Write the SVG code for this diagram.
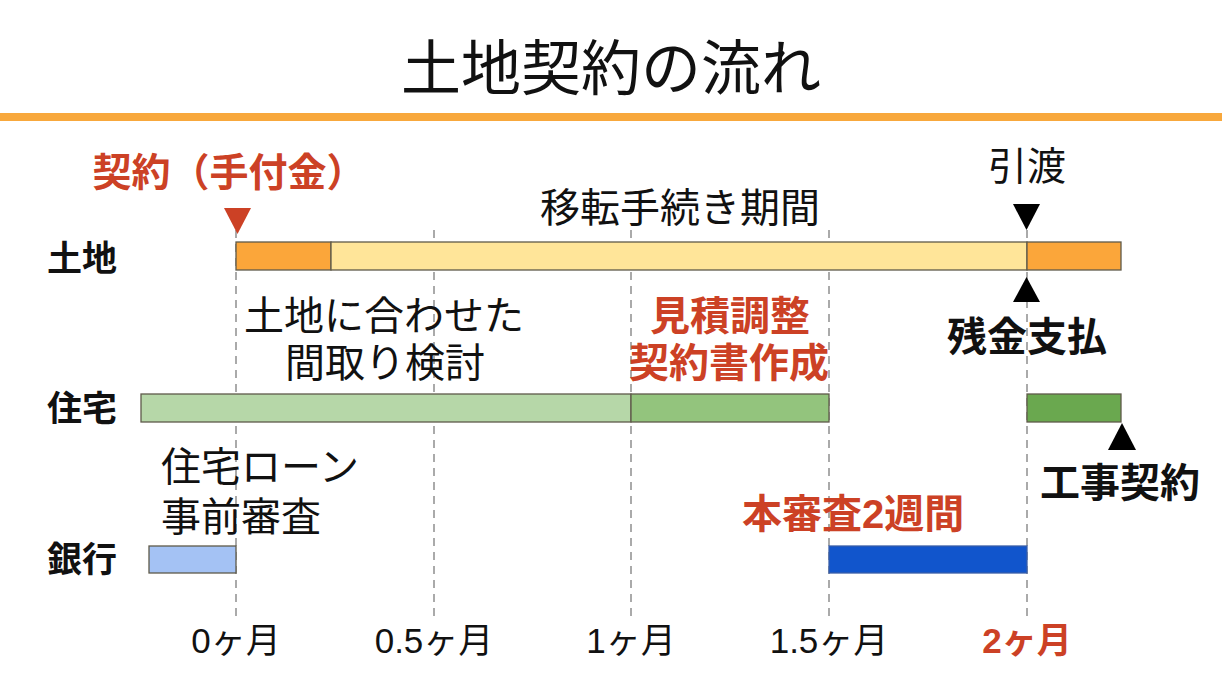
<svg xmlns="http://www.w3.org/2000/svg" width="1222" height="688" viewBox="0 0 1222 688">
<style>
text{font-family:"Liberation Sans","Noto Sans CJK JP",sans-serif;fill:#111}
.b{font-weight:bold}
.red{fill:#CC4125}
.grid{stroke:#AAAAAA;stroke-width:2;stroke-dasharray:8 6}
.bar{stroke:#5f5a4a;stroke-width:1.3}
.ax{font-size:35px}
</style>
<rect width="1222" height="688" fill="#ffffff"/>
<g id="title">
<text x="611" y="90" font-size="60" text-anchor="middle">土地契約の流れ</text>
<rect x="0" y="113" width="1222" height="8" fill="#F8A83C"/>
</g>
<g id="grid">
<line class="grid" x1="236" y1="230" x2="236" y2="616"/>
<line class="grid" x1="434" y1="230" x2="434" y2="616"/>
<line class="grid" x1="631" y1="230" x2="631" y2="616"/>
<line class="grid" x1="829" y1="230" x2="829" y2="616"/>
<line class="grid" x1="1027" y1="230" x2="1027" y2="616"/>
</g>
<g id="row-labels">
<text class="b" x="47" y="271" font-size="35">土地</text>
<text class="b" x="47" y="421" font-size="35">住宅</text>
<text class="b" x="47" y="572" font-size="35">銀行</text>
</g>
<g id="land">
<rect class="bar" x="236" y="242" width="95" height="28" fill="#FBA63A"/>
<rect class="bar" x="331" y="242" width="696" height="28" fill="#FFE599"/>
<rect class="bar" x="1027" y="242" width="94" height="28" fill="#FBA63A"/>
</g>
<g id="house">
<rect class="bar" x="141" y="394" width="490" height="28" fill="#B6D7A8"/>
<rect class="bar" x="631" y="394" width="198" height="28" fill="#93C47D"/>
<rect class="bar" x="1027" y="394" width="94" height="28" fill="#6AA84F"/>
</g>
<g id="bank">
<rect class="bar" x="149" y="546" width="87" height="27" fill="#A4C2F4"/>
<rect x="829" y="546" width="198" height="27" fill="#1155CC" stroke="#3a5fa8" stroke-width="1.3"/>
</g>
<g id="markers">
<polygon points="224,208 251,208 237.5,234" fill="#CC4125"/>
<polygon points="1013,204 1040,204 1026.5,230" fill="#000"/>
<polygon points="1013,302 1040,302 1026.5,277" fill="#000"/>
<polygon points="1108,450 1136,450 1122,423" fill="#000"/>
</g>
<g id="labels">
<text class="b red" x="229" y="186" font-size="39" text-anchor="middle">契約（手付金）</text>
<text x="1027" y="180" font-size="39" text-anchor="middle">引渡</text>
<text x="680" y="222" font-size="40" text-anchor="middle">移転手続き期間</text>
<text class="b" x="1027" y="351" font-size="40" text-anchor="middle">残金支払</text>
<text x="384" y="330" font-size="40" text-anchor="middle">土地に合わせた</text>
<text x="385" y="377" font-size="40" text-anchor="middle">間取り検討</text>
<text class="b red" x="730" y="330" font-size="40" text-anchor="middle">見積調整</text>
<text class="b red" x="729" y="377" font-size="40" text-anchor="middle">契約書作成</text>
<text x="161" y="481" font-size="40">住宅ローン</text>
<text x="161" y="531" font-size="40">事前審査</text>
<text class="b" x="1040" y="497" font-size="40">工事契約</text>
<text class="b red" x="742" y="528" font-size="40">本審査2週間</text>
</g>
<g id="axis">
<text class="ax" x="236" y="653" text-anchor="middle">0ヶ月</text>
<text class="ax" x="434" y="653" text-anchor="middle">0.5ヶ月</text>
<text class="ax" x="631" y="653" text-anchor="middle">1ヶ月</text>
<text class="ax" x="829" y="653" text-anchor="middle">1.5ヶ月</text>
<text class="ax b red" x="1027" y="653" text-anchor="middle">2ヶ月</text>
</g>
</svg>
